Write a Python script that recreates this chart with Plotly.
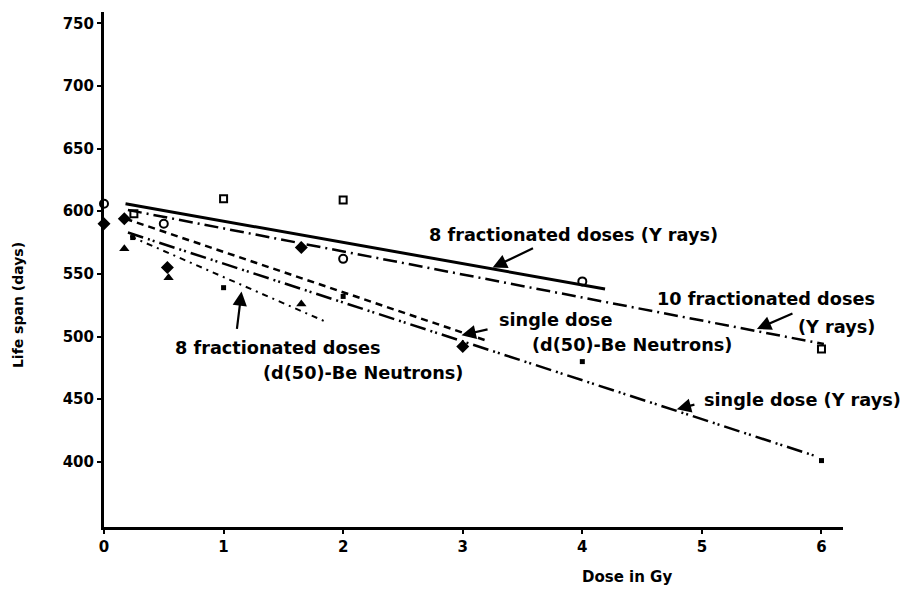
import plotly.graph_objects as go

# ---- data ----
# 8 fractionated doses (gamma rays) - open circles
g8_dose = [0.0, 0.5, 2.0, 4.0]
g8_life = [606, 590, 562, 544]
# 10 fractionated doses (gamma rays) - open squares
g10_dose = [0.25, 1.0, 2.0, 6.0]
g10_life = [598, 610, 609, 490]
# single dose (d(50)-Be neutrons) - filled diamonds
n1_dose = [0.0, 0.17, 0.53, 1.65, 3.0]
n1_life = [590, 594, 555, 571, 492]
# 8 fractionated doses (d(50)-Be neutrons) - filled triangles
n8_dose = [0.17, 0.54, 1.65]
n8_life = [570, 547, 526]
# single dose (gamma rays) - small filled squares
g1_dose = [0.24, 1.0, 2.0, 4.0, 6.0]
g1_life = [579, 539, 532, 480, 401]

# regression lines (end points)
fit_g8_x, fit_g8_y = [0.18, 4.19], [606, 538]
fit_g10_x, fit_g10_y = [0.2, 6.02], [601, 494]
fit_n1_x, fit_n1_y = [0.18, 3.22], [594, 496]
fit_g1_x, fit_g1_y = [0.2, 5.97], [583, 404]
fit_n8_x, fit_n8_y = [0.22, 1.85], [580, 512]

x_ticks = [0, 1, 2, 3, 4, 5, 6]
y_ticks = [400, 450, 500, 550, 600, 650, 700, 750]

FONT = "DejaVu Sans"
BLACK = "#000000"

fig = go.Figure()

def line(x, y, dash, width):
    fig.add_trace(go.Scatter(x=x, y=y, mode="lines",
                             line=dict(color=BLACK, width=width, dash=dash),
                             hoverinfo="skip", showlegend=False))

line(fit_g8_x, fit_g8_y, "solid", 3)
line(fit_g10_x, fit_g10_y, "14px,5px,2px,5px", 2.5)
line(fit_n1_x, fit_n1_y, "7px,5px", 2.5)
line(fit_g1_x, fit_g1_y, "16px,5px,2px,3px,2px,5px", 2.5)
line(fit_n8_x, fit_n8_y, "6px,5px,2px,5px", 2)

def pts(x, y, symbol, size, lw=0):
    fig.add_trace(go.Scatter(x=x, y=y, mode="markers", cliponaxis=False,
                             marker=dict(symbol=symbol, size=size, color=BLACK,
                                         line=dict(color=BLACK, width=lw)),
                             showlegend=False))

pts(g8_dose, g8_life, "circle-open", 8, 2)
pts(g10_dose, g10_life, "square-open", 7, 2)
pts(n1_dose, n1_life, "diamond", 10)
pts(n8_dose, n8_life, "triangle-up", 9)
pts(g1_dose, g1_life, "square", 5)

tfont = dict(family=FONT, size=17.7, color=BLACK, weight="bold")

def label(text, x, y, xanchor="left", xref="x"):
    fig.add_annotation(x=x, y=y, xref=xref, yref="y", text=text, showarrow=False,
                       font=tfont, xanchor=xanchor, yanchor="middle")

def arrow(x0, y0, x1, y1):
    fig.add_annotation(x=x1, y=y1, ax=x0, ay=y0, xref="x", yref="y",
                       axref="x", ayref="y", text="", showarrow=True,
                       arrowhead=2, arrowsize=1.3, arrowwidth=2.2,
                       arrowcolor=BLACK)

label("8 fractionated doses (Y rays)", 3.93, 581, "center")
arrow(3.60, 571, 3.25, 555)

label("10 fractionated doses", 1.046, 530, "right", "paper")
label("(Y rays)", 1.046, 508, "right", "paper")
arrow(5.77, 519, 5.46, 506)

label("single dose", 3.29, 513)
label("(d(50)-Be Neutrons)", 3.56, 493)
arrow(3.22, 506, 2.99, 501)

label("8 fractionated doses", 0.58, 491)
label("(d(50)-Be Neutrons)", 1.31, 471)
arrow(1.11, 505, 1.15, 536)

label("single dose (Y rays)", 5.0, 449)
arrow(4.95, 446, 4.79, 442)

fig.add_annotation(text="Life span (days)", xref="paper", yref="paper",
                   x=-0.117, y=0.43, showarrow=False, textangle=-90,
                   xanchor="center", yanchor="middle",
                   font=dict(family=FONT, size=14, color=BLACK, weight="bold"))
fig.add_annotation(text="Dose in Gy", xref="paper", yref="paper",
                   x=0.708, y=-0.097, showarrow=False, xanchor="center",
                   yanchor="middle",
                   font=dict(family=FONT, size=15, color=BLACK, weight="bold"))

axis_common = dict(showline=True, linecolor=BLACK, linewidth=3, showgrid=False,
                   zeroline=False, ticks="outside", tickcolor=BLACK,
                   tickwidth=2, ticklen=4,
                   tickfont=dict(family=FONT, size=15, color=BLACK, weight="bold"))

fig.update_layout(
    width=904, height=593,
    margin=dict(l=104, r=61, t=12, b=66),
    plot_bgcolor="white", paper_bgcolor="white",
    xaxis=dict(range=[0, 6.18], tickvals=x_ticks, **axis_common),
    yaxis=dict(range=[348, 759], tickvals=y_ticks, **axis_common),
)

fig.write_html("out.html")
